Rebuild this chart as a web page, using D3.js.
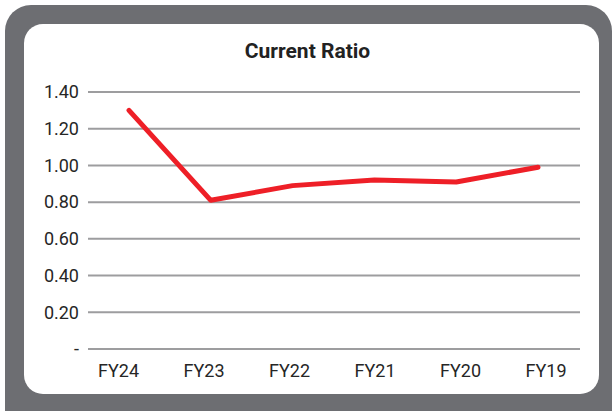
<!DOCTYPE html>
<html><head><meta charset="utf-8">
<script src="https://cdn.jsdelivr.net/npm/d3@7"></script>
<style>html,body{margin:0;padding:0;background:#fff;}svg{display:block;}</style>
</head><body>
<script>
const categories = ["FY24","FY23","FY22","FY21","FY20","FY19"];
const currentRatio = [1.30, 0.81, 0.89, 0.92, 0.91, 0.99];
const yTicks = [0, 0.2, 0.4, 0.6, 0.8, 1.0, 1.2, 1.4];
const yTickLabels = ["-", "0.20", "0.40", "0.60", "0.80", "1.00", "1.20", "1.40"];
const title = "Current Ratio";

const W = 612, H = 411;
const svg = d3.select("body").append("svg").attr("width", W).attr("height", H);

// frame
svg.append("rect").attr("x", 5).attr("y", 5).attr("width", 607).attr("height", 440)
  .attr("rx", 26).attr("fill", "#6d6e72");
svg.append("rect").attr("x", 24).attr("y", 24).attr("width", 575).attr("height", 370)
  .attr("rx", 19).attr("fill", "#ffffff");

const y = d3.scaleLinear().domain([0, 1.4]).range([349, 92]);
const xLine = d3.scalePoint().domain(categories).range([129, 538]);
const xLab = d3.scalePoint().domain(categories).range([118.5, 546]);

// gridlines
svg.append("g").selectAll("line").data(yTicks).join("line")
  .attr("x1", 88).attr("x2", 580)
  .attr("y1", d => y(d)).attr("y2", d => y(d))
  .attr("stroke", "#9d9d9f").attr("stroke-width", 2);

// y labels
svg.append("g").selectAll("text").data(yTicks).join("text")
  .attr("x", 79).attr("y", d => y(d)).attr("dy", "0.35em")
  .attr("text-anchor", "end")
  .attr("font-family", "Roboto").attr("font-size", 18).attr("fill", "#262626")
  .text((d, i) => yTickLabels[i]);

// x labels
svg.append("g").selectAll("text").data(categories).join("text")
  .attr("x", d => xLab(d)).attr("y", 376.5)
  .attr("text-anchor", "middle")
  .attr("font-family", "Roboto").attr("font-size", 18).attr("fill", "#262626")
  .text(d => d);

// line
const line = d3.line().x((d, i) => xLine(categories[i])).y(d => y(d));
svg.append("path").datum(currentRatio).attr("d", line)
  .attr("fill", "none").attr("stroke", "#ee1f27").attr("stroke-width", 5)
  .attr("stroke-linecap", "round").attr("stroke-linejoin", "round");

// title
svg.append("text").attr("x", 307.5).attr("y", 57.7).attr("text-anchor", "middle")
  .attr("font-family", "Roboto").attr("font-weight", "bold").attr("font-size", 21)
  .attr("fill", "#222").text(title);
</script>
</body></html>
